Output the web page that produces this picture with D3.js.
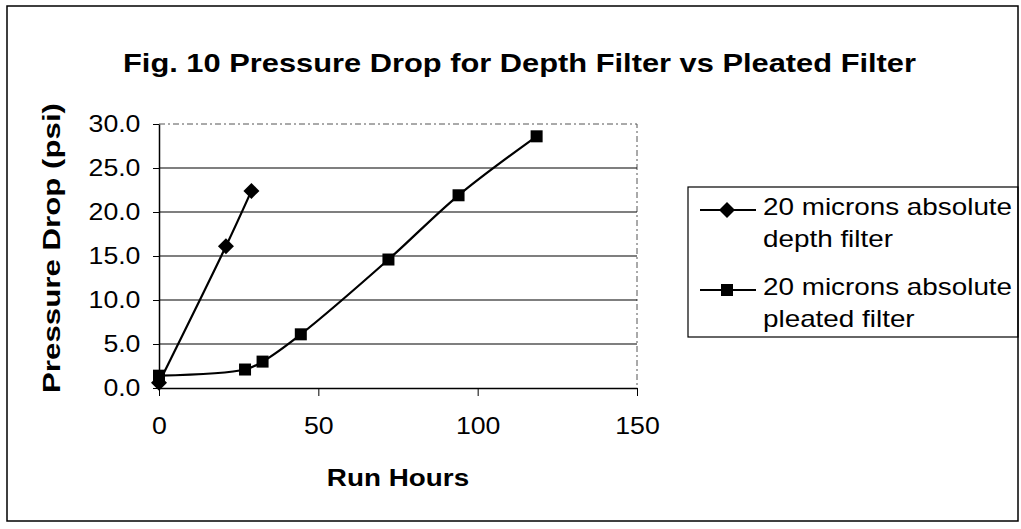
<!DOCTYPE html>
<html>
<head>
<meta charset="utf-8">
<script src="https://cdn.jsdelivr.net/npm/d3@7"></script>
<style>
  html, body { margin: 0; padding: 0; background: #fff; }
  svg { display: block; font-family: "Liberation Sans", Arial, sans-serif; }
</style>
</head>
<body>
<div id="chart-container"></div>
<script>
const width = 1021;
const height = 529;
const plot = { left: 159, right: 637, top: 124, bottom: 388 };
const stretch = 1.16;

const titleText = "Fig. 10  Pressure Drop for Depth Filter vs Pleated Filter";
const xTitle = "Run Hours";
const yTitle = "Pressure Drop (psi)";

const xTicks = [0, 50, 100, 150];
const yTicks = [0, 5, 10, 15, 20, 25, 30];

const depthHours = [0, 21, 29];
const depthPsi = [0.6, 16.1, 22.4];
const pleatedHours = [0, 27, 32.5, 44.5, 72, 94, 118.5];
const pleatedPsi = [1.4, 2.1, 3.0, 6.1, 14.6, 21.9, 28.6];

const seriesNames = [
  ["20 microns absolute", "depth filter"],
  ["20 microns absolute", "pleated filter"],
];

const series = [
  { lines: seriesNames[0], marker: "diamond", data: depthHours.map((h, i) => ({ x: h, y: depthPsi[i] })) },
  { lines: seriesNames[1], marker: "square", data: pleatedHours.map((h, i) => ({ x: h, y: pleatedPsi[i] })) },
];

const svg = d3.select("#chart-container")
  .append("svg")
  .attr("width", width)
  .attr("height", height);

// outer frame
svg.append("rect")
  .attr("x", 7).attr("y", 6)
  .attr("width", 1011).attr("height", 515)
  .attr("fill", "none")
  .attr("stroke", "#000")
  .attr("stroke-width", 1.5);

svg.append("text")
  .attr("x", 123).attr("y", 72)
  .attr("font-size", 25)
  .attr("font-weight", 700)
  .attr("textLength", 793)
  .attr("lengthAdjust", "spacingAndGlyphs")
  .text(titleText);

const x = d3.scaleLinear().domain([0, 150]).range([plot.left, plot.right]);
const y = d3.scaleLinear().domain([0, 30]).range([plot.bottom, plot.top]);

// plot area border (top and right, faint dotted)
svg.append("path")
  .attr("d", `M${plot.left},${plot.top}H${plot.right}V${plot.bottom}`)
  .attr("fill", "none")
  .attr("stroke", "#555")
  .attr("stroke-width", 1)
  .attr("stroke-dasharray", "6,3,2,3");

// gridlines
svg.append("g")
  .selectAll("line")
  .data(yTicks.filter((t) => t > 0 && t < 30))
  .join("line")
  .attr("x1", plot.left).attr("x2", plot.right)
  .attr("y1", (d) => y(d)).attr("y2", (d) => y(d))
  .attr("stroke", "#000")
  .attr("stroke-width", 1.2);

const xAxis = svg.append("g")
  .attr("transform", `translate(0,${plot.bottom})`)
  .call(d3.axisBottom(x).tickValues(xTicks).tickSize(8).tickSizeOuter(0).tickPadding(22));
xAxis.select(".domain").attr("stroke-width", 1.5);
xAxis.selectAll("text")
  .attr("font-size", 23)
  .attr("font-family", "Liberation Sans, Arial, sans-serif")
  .attr("fill", "#000")
  .attr("transform", `scale(${stretch},1)`);

const yAxis = svg.append("g")
  .attr("transform", `translate(${plot.left},0)`)
  .call(d3.axisLeft(y).tickValues(yTicks).tickSize(6).tickSizeOuter(0).tickPadding(10).tickFormat(d3.format(".1f")));
yAxis.select(".domain").attr("stroke-width", 1.5);
yAxis.selectAll("text")
  .attr("font-size", 23)
  .attr("font-family", "Liberation Sans, Arial, sans-serif")
  .attr("fill", "#000")
  .attr("transform", `scale(${stretch},1)`);

svg.append("text")
  .attr("transform", `translate(398,486) scale(${stretch},1)`)
  .attr("text-anchor", "middle")
  .attr("font-size", 24)
  .attr("font-weight", 700)
  .text(xTitle);

svg.append("text")
  .attr("transform", `translate(60,248) rotate(-90)`)
  .attr("text-anchor", "middle")
  .attr("font-size", 24)
  .attr("font-weight", 700)
  .attr("textLength", 290)
  .attr("lengthAdjust", "spacingAndGlyphs")
  .text(yTitle);

const line = d3.line()
  .x((d) => x(d.x))
  .y((d) => y(d.y))
  .curve(d3.curveCatmullRom.alpha(0.5));

function drawMarker(g, type, cx, cy) {
  if (type === "diamond") {
    g.append("path")
      .attr("d", `M${cx},${cy - 8}L${cx + 8},${cy}L${cx},${cy + 8}L${cx - 8},${cy}Z`)
      .attr("fill", "#000");
  } else {
    g.append("rect")
      .attr("x", cx - 6).attr("y", cy - 6)
      .attr("width", 12).attr("height", 12)
      .attr("fill", "#000");
  }
}

series.forEach((s) => {
  svg.append("path")
    .datum(s.data)
    .attr("fill", "none")
    .attr("stroke", "#000")
    .attr("stroke-width", 2.2)
    .attr("d", line);
  const g = svg.append("g");
  s.data.forEach((d) => drawMarker(g, s.marker, x(d.x), y(d.y)));
});

// legend
const legend = svg.append("g");
legend.append("rect")
  .attr("x", 688).attr("y", 187)
  .attr("width", 330).attr("height", 150)
  .attr("fill", "none")
  .attr("stroke", "#000")
  .attr("stroke-width", 1.2);

series.forEach((s, i) => {
  const base = 215 + i * 80;
  legend.append("line")
    .attr("x1", 700).attr("x2", 756)
    .attr("y1", base - 5).attr("y2", base - 5)
    .attr("stroke", "#000")
    .attr("stroke-width", 2);
  drawMarker(legend, s.marker, 727, base - 5);
  s.lines.forEach((txt, j) => {
    legend.append("text")
      .attr("transform", `translate(763,${base + j * 32}) scale(${stretch},1)`)
      .attr("font-size", 24)
      .text(txt);
  });
});
</script>
</body>
</html>
